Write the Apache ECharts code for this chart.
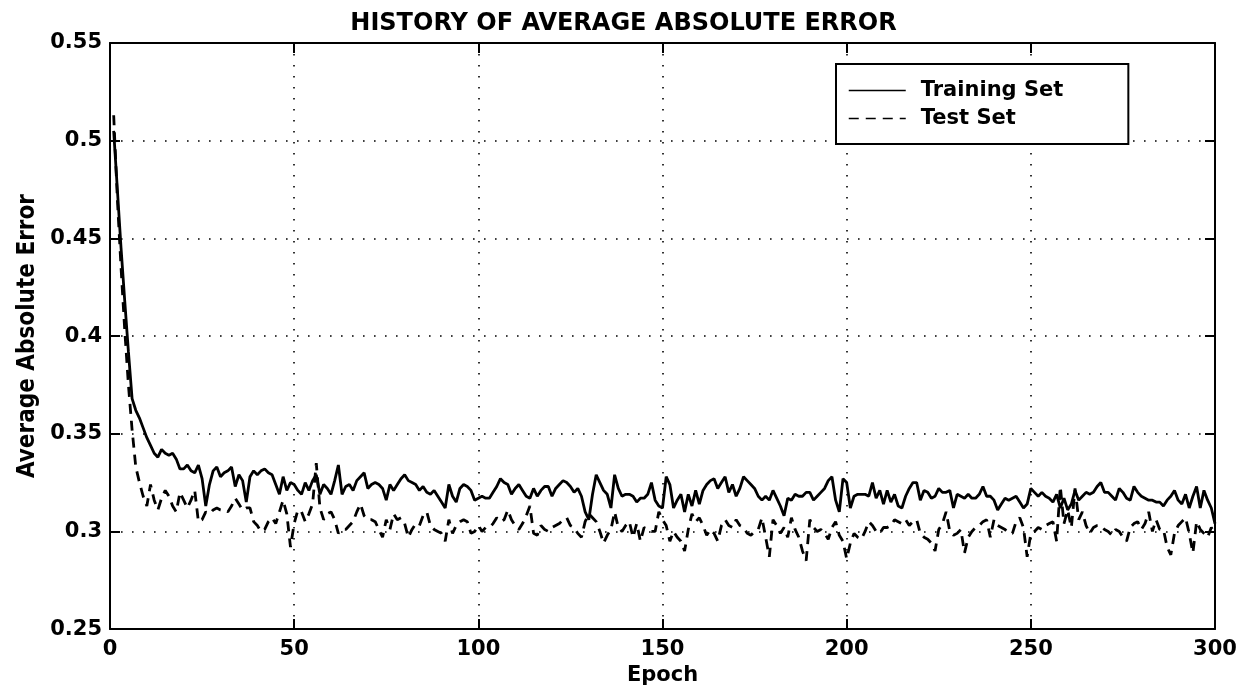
<!DOCTYPE html>
<html><head><meta charset="utf-8">
<script src="https://cdn.jsdelivr.net/npm/echarts@6/dist/echarts.min.js"></script>
<style>html,body{margin:0;padding:0;background:#fff}#c{width:1247px;height:691px}</style>
</head><body><div id="c"></div>
<script>
const chartTitle = 'HISTORY OF AVERAGE ABSOLUTE ERROR';
const xName = 'Epoch';
const yName = 'Average Absolute Error';
const seriesNames = ['Training Set', 'Test Set'];
const xTicks = [0, 50, 100, 150, 200, 250, 300];
const yTicks = [0.25, 0.3, 0.35, 0.4, 0.45, 0.5, 0.55];

const trainingSet = [
0.505,0.475,0.445,0.418,0.392,0.368,0.362,0.358,0.353,0.348,
0.344,0.340,0.338,0.342,0.340,0.339,0.340,0.337,0.332,0.332,
0.334,0.331,0.330,0.334,0.327,0.313,0.324,0.331,0.333,0.328,
0.330,0.331,0.333,0.323,0.329,0.326,0.315,0.328,0.331,0.329,
0.331,0.332,0.330,0.329,0.324,0.319,0.328,0.321,0.325,0.324,
0.321,0.319,0.325,0.321,0.326,0.329,0.319,0.324,0.322,0.319,
0.326,0.334,0.319,0.323,0.324,0.321,0.326,0.328,0.330,0.322,
0.324,0.325,0.324,0.322,0.316,0.324,0.321,0.324,0.327,0.329,
0.326,0.325,0.324,0.321,0.323,0.320,0.319,0.321,0.318,0.315,
0.312,0.324,0.318,0.315,0.322,0.324,0.323,0.321,0.316,0.317,
0.318,0.317,0.317,0.320,0.323,0.327,0.325,0.324,0.319,0.322,
0.324,0.321,0.318,0.317,0.322,0.318,0.321,0.323,0.323,0.318,
0.322,0.324,0.326,0.325,0.323,0.320,0.322,0.318,0.310,0.306,
0.319,0.329,0.325,0.321,0.319,0.312,0.329,0.322,0.318,0.319,
0.319,0.318,0.315,0.317,0.317,0.319,0.325,0.316,0.313,0.312,
0.328,0.324,0.312,0.316,0.319,0.310,0.319,0.313,0.321,0.314,
0.321,0.324,0.326,0.327,0.322,0.325,0.328,0.320,0.324,0.318,
0.322,0.328,0.326,0.324,0.322,0.318,0.316,0.318,0.316,0.321,
0.317,0.313,0.308,0.317,0.316,0.319,0.318,0.318,0.320,0.320,
0.316,0.318,0.320,0.322,0.326,0.328,0.316,0.310,0.327,0.325,
0.312,0.318,0.319,0.319,0.319,0.318,0.325,0.317,0.321,0.314,
0.321,0.315,0.319,0.313,0.312,0.318,0.322,0.325,0.325,0.316,
0.321,0.320,0.317,0.318,0.322,0.320,0.320,0.321,0.312,0.319,
0.318,0.317,0.319,0.317,0.317,0.319,0.323,0.318,0.318,0.316,
0.311,0.314,0.317,0.316,0.317,0.318,0.315,0.312,0.314,0.322,
0.320,0.318,0.320,0.318,0.317,0.315,0.319,0.312,0.317,0.311,
0.314,0.321,0.316,0.318,0.320,0.319,0.320,0.323,0.325,0.320,
0.320,0.318,0.316,0.322,0.320,0.317,0.316,0.323,0.320,0.318,
0.317,0.316,0.316,0.315,0.315,0.313,0.316,0.318,0.321,0.316,
0.314,0.319,0.312,0.318,0.323,0.312,0.321,0.316,0.312,0.304
];

const testSet = [
0.513,0.470,0.435,0.403,0.375,0.352,0.333,0.325,0.318,0.313,
0.324,0.316,0.311,0.317,0.321,0.318,0.313,0.310,0.320,0.316,
0.312,0.316,0.321,0.305,0.306,0.310,0.309,0.311,0.312,0.311,
0.311,0.310,0.313,0.317,0.314,0.311,0.312,0.312,0.305,0.303,
0.300,0.301,0.305,0.307,0.304,0.310,0.316,0.309,0.292,0.304,
0.311,0.310,0.305,0.309,0.314,0.335,0.312,0.306,0.309,0.310,
0.306,0.299,0.301,0.301,0.303,0.305,0.310,0.314,0.308,0.306,
0.306,0.305,0.301,0.297,0.306,0.301,0.309,0.306,0.307,0.304,
0.297,0.301,0.304,0.303,0.308,0.310,0.303,0.301,0.300,0.299,
0.295,0.306,0.299,0.303,0.305,0.306,0.305,0.299,0.300,0.303,
0.300,0.302,0.302,0.304,0.307,0.305,0.306,0.311,0.306,0.303,
0.301,0.304,0.308,0.313,0.299,0.298,0.303,0.301,0.300,0.302,
0.303,0.304,0.306,0.307,0.303,0.302,0.299,0.297,0.305,0.309,
0.307,0.305,0.300,0.294,0.298,0.301,0.310,0.302,0.300,0.303,
0.305,0.297,0.304,0.295,0.302,0.301,0.300,0.300,0.310,0.306,
0.303,0.295,0.300,0.297,0.295,0.290,0.301,0.309,0.305,0.307,
0.303,0.298,0.301,0.299,0.295,0.303,0.306,0.303,0.302,0.306,
0.303,0.302,0.299,0.298,0.300,0.301,0.307,0.297,0.287,0.306,
0.303,0.299,0.302,0.297,0.307,0.301,0.297,0.290,0.285,0.306,
0.302,0.300,0.301,0.299,0.296,0.302,0.305,0.298,0.295,0.286,
0.294,0.299,0.297,0.296,0.300,0.305,0.303,0.300,0.299,0.302,
0.302,0.303,0.306,0.305,0.304,0.306,0.303,0.305,0.306,0.299,
0.297,0.296,0.294,0.290,0.301,0.304,0.310,0.300,0.298,0.299,
0.301,0.289,0.297,0.300,0.302,0.303,0.305,0.306,0.297,0.306,
0.303,0.302,0.301,0.299,0.299,0.305,0.307,0.302,0.287,0.299,
0.300,0.302,0.301,0.303,0.304,0.305,0.295,0.323,0.304,0.311,
0.302,0.322,0.306,0.310,0.303,0.299,0.302,0.303,0.303,0.301,
0.300,0.298,0.301,0.300,0.297,0.295,0.302,0.304,0.305,0.301,
0.304,0.310,0.300,0.306,0.301,0.301,0.292,0.288,0.299,0.303,
0.305,0.307,0.299,0.289,0.305,0.301,0.299,0.297,0.302,0.299
];

const epochs = trainingSet.map((_, i) => i + 1);

const FONT = '"DejaVu Sans", "Liberation Sans", Arial, sans-serif';
const xMin = xTicks[0], xMax = xTicks[xTicks.length - 1], xStep = xTicks[1] - xTicks[0];
const yMin = yTicks[0], yMax = yTicks[yTicks.length - 1], yStep = 0.05;

const axisLineStyle = { color: '#000', width: 2 };
const tickStyle = { inside: true, length: 10, lineStyle: { color: '#000', width: 2 } };
const dotted = { show: true, lineStyle: { color: '#000', width: 1.6, type: [1.6, 9.4] } };
const labelStyle = { color: '#000', fontFamily: FONT, fontWeight: 'bold', fontSize: 21 };

const chart = echarts.init(document.getElementById('c'), null, { renderer: 'canvas' });
chart.setOption({
  animation: false,
  backgroundColor: '#fff',
  title: {
    text: chartTitle, left: 'center', top: 7,
    textStyle: { color: '#000', fontFamily: FONT, fontWeight: 'bold', fontSize: 24 }
  },
  grid: { left: 110, right: 32, top: 43, bottom: 54, containLabel: false },
  legend: {
    data: seriesNames,
    orient: 'vertical',
    left: 836, top: 64,
    padding: [16, 65, 15, 12],
    itemGap: 7,
    itemWidth: 57, itemHeight: 20,
    backgroundColor: '#fff',
    borderColor: '#000', borderWidth: 2,
    itemStyle: { opacity: 0, borderWidth: 0 },
    lineStyle: { width: 1.5 },
    textStyle: { color: '#000', fontFamily: FONT, fontWeight: 'bold', fontSize: 21, padding: [0, 0, 0, 10] }
  },
  xAxis: [
    {
      type: 'value', min: xMin, max: xMax, interval: xStep, position: 'bottom',
      axisLine: { show: true, onZero: false, lineStyle: axisLineStyle },
      axisTick: tickStyle,
      axisLabel: Object.assign({ margin: 10 }, labelStyle),
      splitLine: dotted,
      name: xName, nameLocation: 'middle', nameGap: 29,
      nameTextStyle: { color: '#000', fontFamily: FONT, fontWeight: 'bold', fontSize: 21 }
    },
    {
      type: 'value', min: xMin, max: xMax, interval: xStep, position: 'top',
      axisLine: { show: true, onZero: false, lineStyle: axisLineStyle },
      axisTick: tickStyle, axisLabel: { show: false }, splitLine: { show: false }
    }
  ],
  yAxis: [
    {
      type: 'value', min: yMin, max: yMax, interval: yStep, position: 'left',
      axisLine: { show: true, onZero: false, lineStyle: axisLineStyle },
      axisTick: tickStyle,
      axisLabel: Object.assign({ margin: 8, formatter: v => String(+v.toFixed(2)) }, labelStyle),
      splitLine: dotted,
      name: yName, nameLocation: 'middle', nameGap: 60, nameRotate: 90,
      nameTextStyle: { color: '#000', fontFamily: '"DejaVu Sans Condensed", "Liberation Sans Narrow", "DejaVu Sans", sans-serif', fontWeight: 'bold', fontSize: 24 }
    },
    {
      type: 'value', min: yMin, max: yMax, interval: yStep, position: 'right',
      axisLine: { show: true, onZero: false, lineStyle: axisLineStyle },
      axisTick: tickStyle, axisLabel: { show: false }, splitLine: { show: false }
    }
  ],
  series: [
    {
      name: seriesNames[0], type: 'line', xAxisIndex: 0, yAxisIndex: 0,
      data: epochs.map((e, i) => [e, trainingSet[i]]),
      symbol: 'none', showSymbol: false,
      lineStyle: { color: '#000', width: 2.8 }, itemStyle: { color: '#000' }
    },
    {
      name: seriesNames[1], type: 'line', xAxisIndex: 0, yAxisIndex: 0,
      data: epochs.map((e, i) => [e, testSet[i]]),
      symbol: 'none', showSymbol: false,
      lineStyle: { color: '#000', width: 2.8, type: [10, 7] }, itemStyle: { color: '#000' }
    }
  ]
});
</script></body></html>
